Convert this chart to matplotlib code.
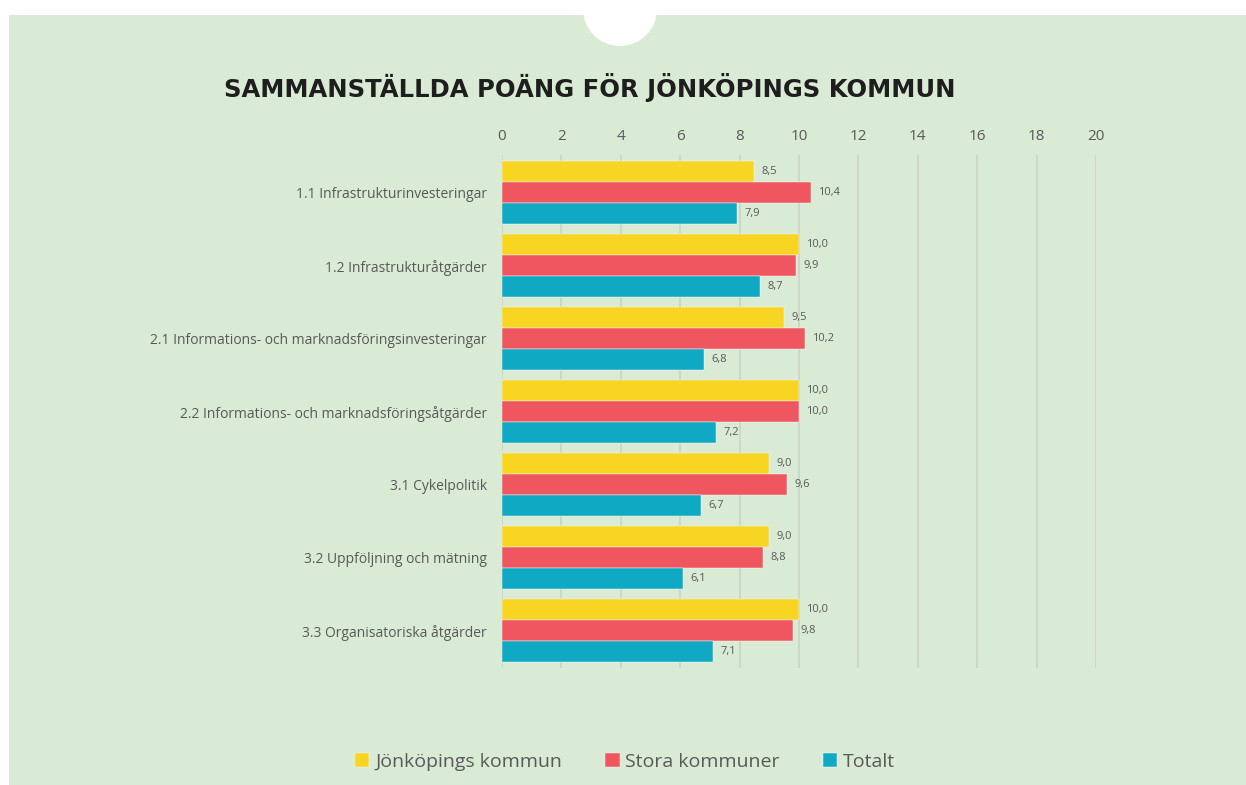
import numpy as np
import matplotlib.pyplot as plt
from matplotlib.patches import Ellipse, Rectangle

# data
categories = [
    "1.1 Infrastrukturinvesteringar",
    "1.2 Infrastrukturåtgärder",
    "2.1 Informations- och marknadsföringsinvesteringar",
    "2.2 Informations- och marknadsföringsåtgärder",
    "3.1 Cykelpolitik",
    "3.2 Uppföljning och mätning",
    "3.3 Organisatoriska åtgärder",
]
jonkoping = [8.5, 10.0, 9.5, 10.0, 9.0, 9.0, 10.0]
stora = [10.4, 9.9, 10.2, 10.0, 9.6, 8.8, 9.8]
totalt = [7.9, 8.7, 6.8, 7.2, 6.7, 6.1, 7.1]
series_names = ["Jönköpings kommun", "Stora kommuner", "Totalt"]
x_ticks = list(range(0, 21, 2))

colors = ["#F8D523", "#F0565F", "#10A9C3"]
bg = "#D9EAD5"
text_col = "#595959"

plt.rcParams['font.family'] = ['Open Sans', 'DejaVu Sans']

fig = plt.figure(figsize=(12.46, 7.85), dpi=100)
fig.patch.set_facecolor("white")

# green panel, white top strip and the round notch
fig.patches.append(Rectangle((9 / 1246, 0), 1 - 9 / 1246, 1 - 15 / 785,
                             transform=fig.transFigure, facecolor=bg,
                             edgecolor="none", zorder=0))
fig.patches.append(Ellipse((620 / 1246, 1 - 9 / 785), 74 / 1246, 74 / 785,
                           transform=fig.transFigure, facecolor="white",
                           edgecolor="none", zorder=0))

ax = fig.add_axes([502 / 1246, 1 - 668 / 785, (1096 - 502) / 1246, (668 - 155) / 785])
ax.set_facecolor("none")
ax.set_zorder(5)

y = np.arange(len(categories))
h = 0.288
for i, (vals, c) in enumerate(zip([jonkoping, stora, totalt], colors)):
    pos = y + (i - 1) * h
    ax.barh(pos, vals, height=h, color=c, label=series_names[i], zorder=3,
            edgecolor="#ffffff", linewidth=0.3)
    for p, v in zip(pos, vals):
        ax.text(v + 0.25, p, f"{v:.1f}".replace(".", ","), va="center", ha="left",
                fontsize=8, color=text_col)

ax.set_xlim(0, 20)
ax.set_ylim(len(categories) - 0.49, -0.52)
ax.set_xticks(x_ticks)
ax.xaxis.tick_top()
ax.tick_params(axis="x", length=0, pad=8, labelsize=11, labelcolor=text_col)
ax.tick_params(axis="y", length=0, pad=11, labelsize=10, labelcolor=text_col)
ax.set_yticks(y)
ax.set_yticklabels(categories)
ax.grid(axis="x", color="#CBD3C8", linewidth=1.2, zorder=0)
for s in ax.spines.values():
    s.set_visible(False)

fig.text(590 / 1246, 1 - 87 / 785, "SAMMANSTÄLLDA POÄNG FÖR JÖNKÖPINGS KOMMUN",
         ha="center", va="center", fontsize=17.5, fontweight="heavy", color="#1E1E1E",
         family=['DejaVu Sans'], zorder=6)

leg = fig.legend(loc="center", bbox_to_anchor=(625 / 1246, 1 - 762 / 785), ncol=3,
                 frameon=False, fontsize=14, handlelength=0.75, handleheight=0.75,
                 handletextpad=0.3, columnspacing=2.2)
leg.set_zorder(6)
for t in leg.get_texts():
    t.set_color(text_col)

fig.savefig("out.png", dpi=100, facecolor=fig.get_facecolor())
